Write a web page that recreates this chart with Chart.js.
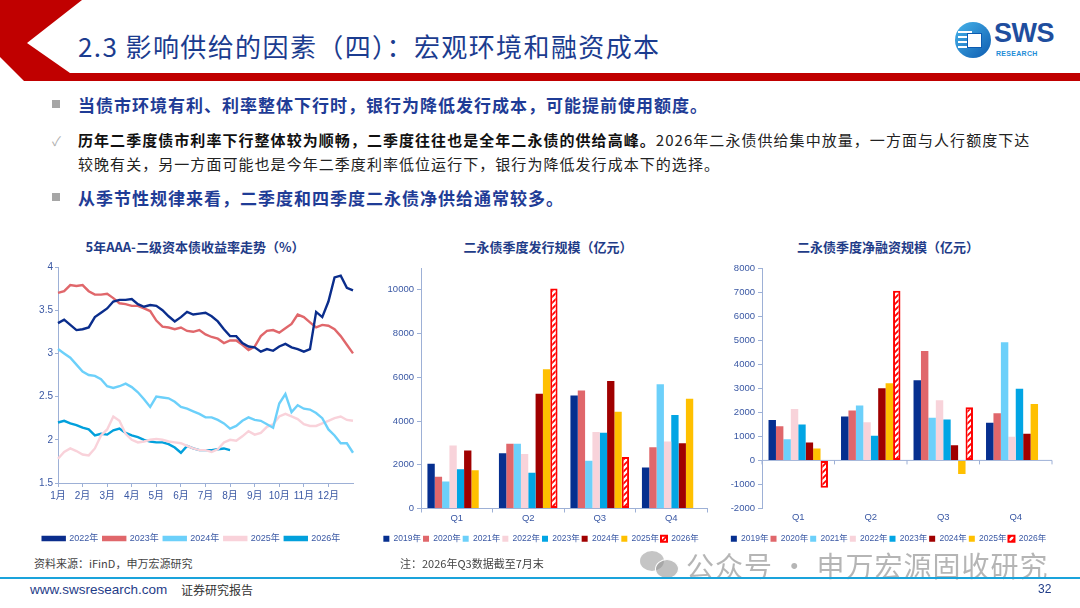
<!DOCTYPE html>
<html lang="zh-CN">
<head>
<meta charset="utf-8">
<title>2.3 影响供给的因素（四）</title>
<script src="https://cdn.jsdelivr.net/npm/chart.js@4.4.1/dist/chart.umd.min.js"></script>
<style>
  html, body { margin: 0; padding: 0; background: #fff; }
  body { width: 1080px; height: 608px; position: relative; overflow: hidden;
         font-family: "Noto Sans CJK SC", "Noto Sans", sans-serif; }
  .abs { position: absolute; }
  .title { left: 78px; top: 27px; font-size: 26px; color: #1B3C8F; letter-spacing: 1.4px; white-space: nowrap; }
  .bullet { left: 78px; white-space: nowrap; }
  .b-main { font-size: 17px; font-weight: bold; color: #1F3C96; letter-spacing: 1px; }
  .b-sub { font-size: 15px; color: #222; line-height: 24px; letter-spacing: 1.05px; }
  .b-sub b { color: #111; }
  .mark { left: 52px; width: 8px; height: 8px; background: #A6A6A6; }
  .check { left: 52px; font-size: 13px; color: #B0B0B0; }
  .ctitle { font-size: 13px; font-weight: bold; color: #1F3C88; white-space: nowrap; text-align: center; }
  canvas { position: absolute; }
  .note { font-size: 11px; color: #444; white-space: nowrap; }
</style>
</head>
<body>
<svg class="abs" style="left:0;top:0" width="1080" height="90">
  <polygon points="0,0 82,0 27,43 70,73 1080,73 1080,81 24,81 0,57" fill="#C00000"/>
</svg>
<div class="abs title">2.3 影响供给的因素（四）：宏观环境和融资成本</div>

<!-- logo -->
<div class="abs" style="left:955px;top:22px;width:36px;height:36px;border-radius:50%;background:linear-gradient(135deg,#47B4EA,#0D5BB0);"></div>
<div class="abs" style="left:958px;top:31px;width:14px;height:2px;background:#fff;box-shadow:0 5px 0 #fff,0 10px 0 #fff,0 15px 0 #fff;"></div>
<div class="abs" style="left:967px;top:33px;width:13px;height:13px;background:#fff;border:1px solid #0D5BB0;"></div>
<div class="abs" style="left:994px;top:18px;font-family:'Liberation Sans',sans-serif;font-weight:bold;font-size:27px;color:#1F4E9E;letter-spacing:-0.5px;">SWS</div>
<div class="abs" style="left:996px;top:50px;font-family:'Liberation Sans',sans-serif;font-weight:bold;font-size:7px;color:#1E8CD6;letter-spacing:0.3px;">RESEARCH</div>

<!-- bullets -->
<div class="abs mark" style="top:100px"></div>
<div class="abs bullet b-main" style="top:92px">当债市环境有利、利率整体下行时，银行为降低发行成本，可能提前使用额度。</div>
<div class="abs check" style="top:131px">✓</div>
<div class="abs bullet b-sub" style="top:128px"><b>历年二季度债市利率下行整体较为顺畅，二季度往往也是全年二永债的供给高峰。</b>2026年二永债供给集中放量，一方面与人行额度下达<br>较晚有关，另一方面可能也是今年二季度利率低位运行下，银行为降低发行成本下的选择。</div>
<div class="abs mark" style="top:193px"></div>
<div class="abs bullet b-main" style="top:185px">从季节性规律来看，二季度和四季度二永债净供给通常较多。</div>

<!-- chart titles -->
<div class="abs ctitle" style="left:30px;width:330px;top:237px">5年AAA-二级资本债收益率走势（%）</div>
<div class="abs ctitle" style="left:378px;width:340px;top:237px">二永债季度发行规模（亿元）</div>
<div class="abs ctitle" style="left:718px;width:340px;top:237px">二永债季度净融资规模（亿元）</div>

<canvas id="yield-chart" style="left:30px;top:258px" width="330" height="297"></canvas>
<canvas id="issue-chart" style="left:375px;top:258px" width="340" height="297"></canvas>
<canvas id="net-chart" style="left:725px;top:258px" width="340" height="297"></canvas>

<div class="abs note" style="left:34px;top:555px">资料来源：iFinD，申万宏源研究</div>
<div class="abs note" style="left:400px;top:555px">注：2026年Q3数据截至7月末</div>

<!-- watermark -->
<div class="abs" style="left:640px;top:551px;width:24px;height:20px;border-radius:50%;background:rgba(150,150,150,0.55);"></div>
<div class="abs" style="left:655px;top:559px;width:22px;height:18px;border-radius:50%;background:rgba(150,150,150,0.6);border:1px solid #fff;"></div>
<div class="abs" style="left:686px;top:545px;font-size:28px;color:rgba(120,120,120,0.55);white-space:nowrap;letter-spacing:1px;">公众号 · 申万宏源固收研究</div>

<!-- footer -->
<div class="abs" style="left:0;top:577px;width:1080px;height:2px;background:#1AA3DB;"></div>
<div class="abs" style="left:30px;top:582px;font-family:'Liberation Sans',sans-serif;font-size:13.5px;color:#1F3C88;">www.swsresearch.com</div>
<div class="abs" style="left:181px;top:581px;font-size:12px;color:#333;">证券研究报告</div>
<div class="abs" style="left:1038px;top:582px;font-family:'Liberation Sans',sans-serif;font-size:12px;color:#1F3C88;">32</div>

<script>
// ---- yield chart: weekly points, 4 per month, last point = year end ----
const monthTicks = ['1月', '', '', '', '2月', '', '', '', '3月', '', '', '', '4月', '', '', '',
    '5月', '', '', '', '6月', '', '', '', '7月', '', '', '', '8月', '', '', '', '9月', '', '', '',
    '10月', '', '', '', '11月', '', '', '', '12月', '', '', '', ''];
const yieldTicks = [1.5, 2, 2.5, 3, 3.5, 4];

const yield2022 = [3.35, 3.39, 3.33, 3.27, 3.28, 3.30, 3.42, 3.47, 3.52, 3.60, 3.62, 3.62, 3.63, 3.57, 3.54, 3.56,
    3.55, 3.50, 3.43, 3.37, 3.42, 3.48, 3.45, 3.46, 3.47, 3.43, 3.37, 3.28, 3.20, 3.20, 3.12, 3.08,
    3.07, 3.02, 3.05, 3.03, 3.08, 3.11, 3.07, 3.05, 3.02, 3.05, 3.48, 3.42, 3.60, 3.88, 3.90, 3.76, 3.73];
const yield2023 = [3.70, 3.72, 3.79, 3.78, 3.79, 3.72, 3.68, 3.68, 3.69, 3.64, 3.58, 3.57, 3.55, 3.55, 3.52, 3.49,
    3.38, 3.31, 3.30, 3.28, 3.30, 3.26, 3.25, 3.27, 3.22, 3.19, 3.17, 3.12, 3.15, 3.15, 3.10, 3.04,
    3.08, 3.20, 3.26, 3.27, 3.24, 3.29, 3.34, 3.45, 3.42, 3.36, 3.30, 3.33, 3.32, 3.28, 3.20, 3.10, 3.00];
const yield2024 = [3.05, 3.00, 2.95, 2.87, 2.79, 2.75, 2.74, 2.70, 2.62, 2.60, 2.62, 2.65, 2.61, 2.55, 2.47, 2.38,
    2.50, 2.49, 2.48, 2.44, 2.38, 2.36, 2.33, 2.30, 2.26, 2.26, 2.23, 2.19, 2.13, 2.16, 2.22, 2.26,
    2.23, 2.22, 2.18, 2.14, 2.42, 2.53, 2.32, 2.40, 2.36, 2.35, 2.31, 2.25, 2.12, 2.05, 1.96, 1.96, 1.85];
const yield2025 = [1.78, 1.86, 1.90, 1.87, 1.83, 1.82, 1.90, 2.05, 2.12, 2.27, 2.22, 2.07, 2.00, 1.97, 1.98, 2.00,
    2.01, 2.00, 1.98, 1.97, 1.96, 1.93, 1.90, 1.88, 1.88, 1.86, 1.89, 1.97, 2.00, 1.99, 2.04, 2.10,
    2.06, 2.08, 2.15, 2.18, 2.27, 2.30, 2.27, 2.24, 2.18, 2.16, 2.16, 2.19, 2.22, 2.25, 2.27, 2.23, 2.22];
const yield2026 = [2.20, 2.22, 2.19, 2.17, 2.14, 2.12, 2.05, 2.07, 2.06, 2.11, 2.13, 2.08, 2.05, 2.03, 2.00, 1.98,
    1.97, 1.97, 1.95, 1.91, 1.85, 1.93, 1.90, 1.88, 1.88, 1.88, 1.89, 1.90, 1.88];

// ---- quarterly bars ----
const quarters = ['Q1', 'Q2', 'Q3', 'Q4'];
const barYears = ['2019年', '2020年', '2021年', '2022年', '2023年', '2024年', '2025年', '2026年'];
const issueTicks = [0, 2000, 4000, 6000, 8000, 10000];
const netTicks = [-2000, -1000, 0, 1000, 2000, 3000, 4000, 5000, 6000, 7000, 8000];

const issue2019 = [2050, 2530, 5170, 1870];
const issue2020 = [1450, 2960, 5400, 2800];
const issue2021 = [1240, 2960, 2180, 5680];
const issue2022 = [2880, 2490, 3500, 3060];
const issue2023 = [1800, 1640, 3470, 4280];
const issue2024 = [2650, 5250, 5830, 2990];
const issue2025 = [1750, 6370, 4430, 5020];
const issue2026 = [null, 10060, 2360, null];

const net2019 = [1680, 1830, 3330, 1570];
const net2020 = [1420, 2070, 4550, 1960];
const net2021 = [880, 2280, 1770, 4910];
const net2022 = [2140, 1590, 2500, 980];
const net2023 = [1490, 1020, 1700, 2980];
const net2024 = [745, 3000, 635, 1110];
const net2025 = [500, 3210, -570, 2340];
const net2026 = [-1140, 7050, 2210, null];

document.addEventListener('DOMContentLoaded', () => {
    const axisColor = '#9DB0D6';
    const labelColor = '#3A58A4';
    const barColors = ['#062F8F', '#E0676B', '#6CD0FA', '#F8D3DA', '#02A5E4', '#A00000', '#FFC000'];

    // red "////" hatch for the 2026 bars
    function makeHatch() {
        const p = document.createElement('canvas');
        p.width = 6;
        p.height = 6;
        const c = p.getContext('2d');
        c.fillStyle = '#ffffff';
        c.fillRect(0, 0, 6, 6);
        c.strokeStyle = '#FF0000';
        c.lineWidth = 1.8;
        c.beginPath();
        c.moveTo(0, 6); c.lineTo(6, 0);
        c.moveTo(-3, 3); c.lineTo(3, -3);
        c.moveTo(3, 9); c.lineTo(9, 3);
        c.stroke();
        return c.createPattern(p, 'repeat');
    }
    const hatch = makeHatch();

    const tickFont = { family: "'Liberation Sans', 'Noto Sans CJK SC', sans-serif", size: 10 };
    const legendFont = { family: "'Liberation Sans', 'Noto Sans CJK SC', sans-serif", size: 9 };
    const fixedTicks = list => s => { s.ticks = list.map(v => ({ value: v })); };

    // --- Yield lines ---
    const lineSeries = [
        ['2022年', yield2022, '#0A2D8C'],
        ['2023年', yield2023, '#E0676B'],
        ['2024年', yield2024, '#6CD0FA'],
        ['2025年', yield2025, '#F9D2DA'],
        ['2026年', yield2026, '#02A0DC']
    ];

    new Chart(document.getElementById('yield-chart'), {
        type: 'line',
        data: {
            labels: monthTicks,
            datasets: lineSeries.map(([label, data, color]) => ({
                label, data,
                borderColor: color,
                backgroundColor: color,
                borderWidth: 2.4,
                pointRadius: 0,
                tension: 0
            }))
        },
        options: {
            responsive: false,
            animation: false,
            layout: { padding: { top: 9, right: 7, bottom: 2, left: 0 } },
            plugins: {
                tooltip: { enabled: false },
                legend: {
                    position: 'bottom',
                    labels: { boxWidth: 22, boxHeight: 3, padding: 5, color: labelColor, font: legendFont }
                }
            },
            scales: {
                x: {
                    afterFit: s => { s.height = 46; },
                    border: { color: axisColor },
                    grid: {
                        drawOnChartArea: false, tickLength: 4,
                        color: ctx => (ctx.tick && ctx.tick.label !== '') ? axisColor : 'transparent'
                    },
                    ticks: { autoSkip: false, maxRotation: 0, padding: 3, color: labelColor, font: tickFont }
                },
                y: {
                    min: yieldTicks[0], max: yieldTicks[yieldTicks.length - 1],
                    afterFit: s => { s.width = 28; },
                    afterBuildTicks: fixedTicks(yieldTicks),
                    border: { color: axisColor },
                    grid: { drawOnChartArea: false, tickLength: 3, color: axisColor },
                    ticks: { padding: 2, color: labelColor, font: tickFont, callback: v => String(v) }
                }
            }
        }
    });

    // --- Bar charts ---
    function barDatasets(seriesList) {
        return seriesList.map((data, i) => {
            const is2026 = i === seriesList.length - 1;
            return {
                label: barYears[i],
                data,
                backgroundColor: is2026 ? hatch : barColors[i],
                borderColor: is2026 ? '#FF0000' : barColors[i],
                borderWidth: is2026 ? 2 : 0,
                borderSkipped: false,
                barPercentage: 1,
                categoryPercentage: 0.82
            };
        });
    }

    const barLegend = {
        position: 'bottom',
        labels: { boxWidth: 6, boxHeight: 6, padding: 2, color: labelColor, font: { ...legendFont, size: 8.5 } }
    };

    // x axis drawn on the zero line, with small ticks at category edges
    const zeroAxis = {
        id: 'zeroAxis',
        beforeDatasetsDraw(chart) {
            const { ctx, chartArea, scales } = chart;
            const y0 = scales.y.getPixelForValue(0);
            const n = chart.data.labels.length;
            ctx.save();
            ctx.strokeStyle = axisColor;
            ctx.lineWidth = 1;
            ctx.beginPath();
            ctx.moveTo(chartArea.left, y0);
            ctx.lineTo(chartArea.right, y0);
            for (let i = 0; i <= n; i++) {
                const px = scales.x.left + scales.x.width * i / n;
                ctx.moveTo(px, y0);
                ctx.lineTo(px, y0 + 4);
            }
            ctx.stroke();
            ctx.restore();
        }
    };

    new Chart(document.getElementById('issue-chart'), {
        type: 'bar',
        data: {
            labels: quarters,
            datasets: barDatasets([issue2019, issue2020, issue2021, issue2022, issue2023, issue2024, issue2025, issue2026])
        },
        options: {
            responsive: false,
            animation: false,
            layout: { padding: { top: 10, right: 8, bottom: 2, left: 0 } },
            plugins: { tooltip: { enabled: false }, legend: barLegend },
            scales: {
                x: {
                    afterFit: s => { s.height = 24; },
                    border: { color: axisColor },
                    grid: { offset: true, drawOnChartArea: false, tickLength: 4, color: axisColor },
                    ticks: { padding: 0, color: labelColor, font: { ...tickFont, size: 9.5 } }
                },
                y: {
                    min: 0, max: 11000,
                    afterFit: s => { s.width = 46; },
                    afterBuildTicks: fixedTicks(issueTicks),
                    border: { color: axisColor },
                    grid: { drawOnChartArea: false, tickLength: 4, color: axisColor },
                    ticks: { padding: 3, color: labelColor, font: { ...tickFont, size: 9.5 }, callback: v => String(v) }
                }
            }
        }
    });

    new Chart(document.getElementById('net-chart'), {
        type: 'bar',
        data: {
            labels: quarters,
            datasets: barDatasets([net2019, net2020, net2021, net2022, net2023, net2024, net2025, net2026])
        },
        options: {
            responsive: false,
            animation: false,
            layout: { padding: { top: 10, right: 13, bottom: 2, left: 0 } },
            plugins: { tooltip: { enabled: false }, legend: barLegend },
            scales: {
                x: {
                    afterFit: s => { s.height = 24; },
                    border: { display: false },
                    grid: { display: false },
                    ticks: { padding: -5, color: labelColor, font: { ...tickFont, size: 9.5 } }
                },
                y: {
                    min: -2000, max: 8000,
                    afterFit: s => { s.width = 37; },
                    afterBuildTicks: fixedTicks(netTicks),
                    border: { color: axisColor },
                    grid: { drawOnChartArea: false, tickLength: 4, color: axisColor },
                    ticks: { padding: 3, color: labelColor, font: { ...tickFont, size: 9.5 }, callback: v => String(v) }
                }
            }
        },
        plugins: [zeroAxis]
    });
});
</script>
</body>
</html>
